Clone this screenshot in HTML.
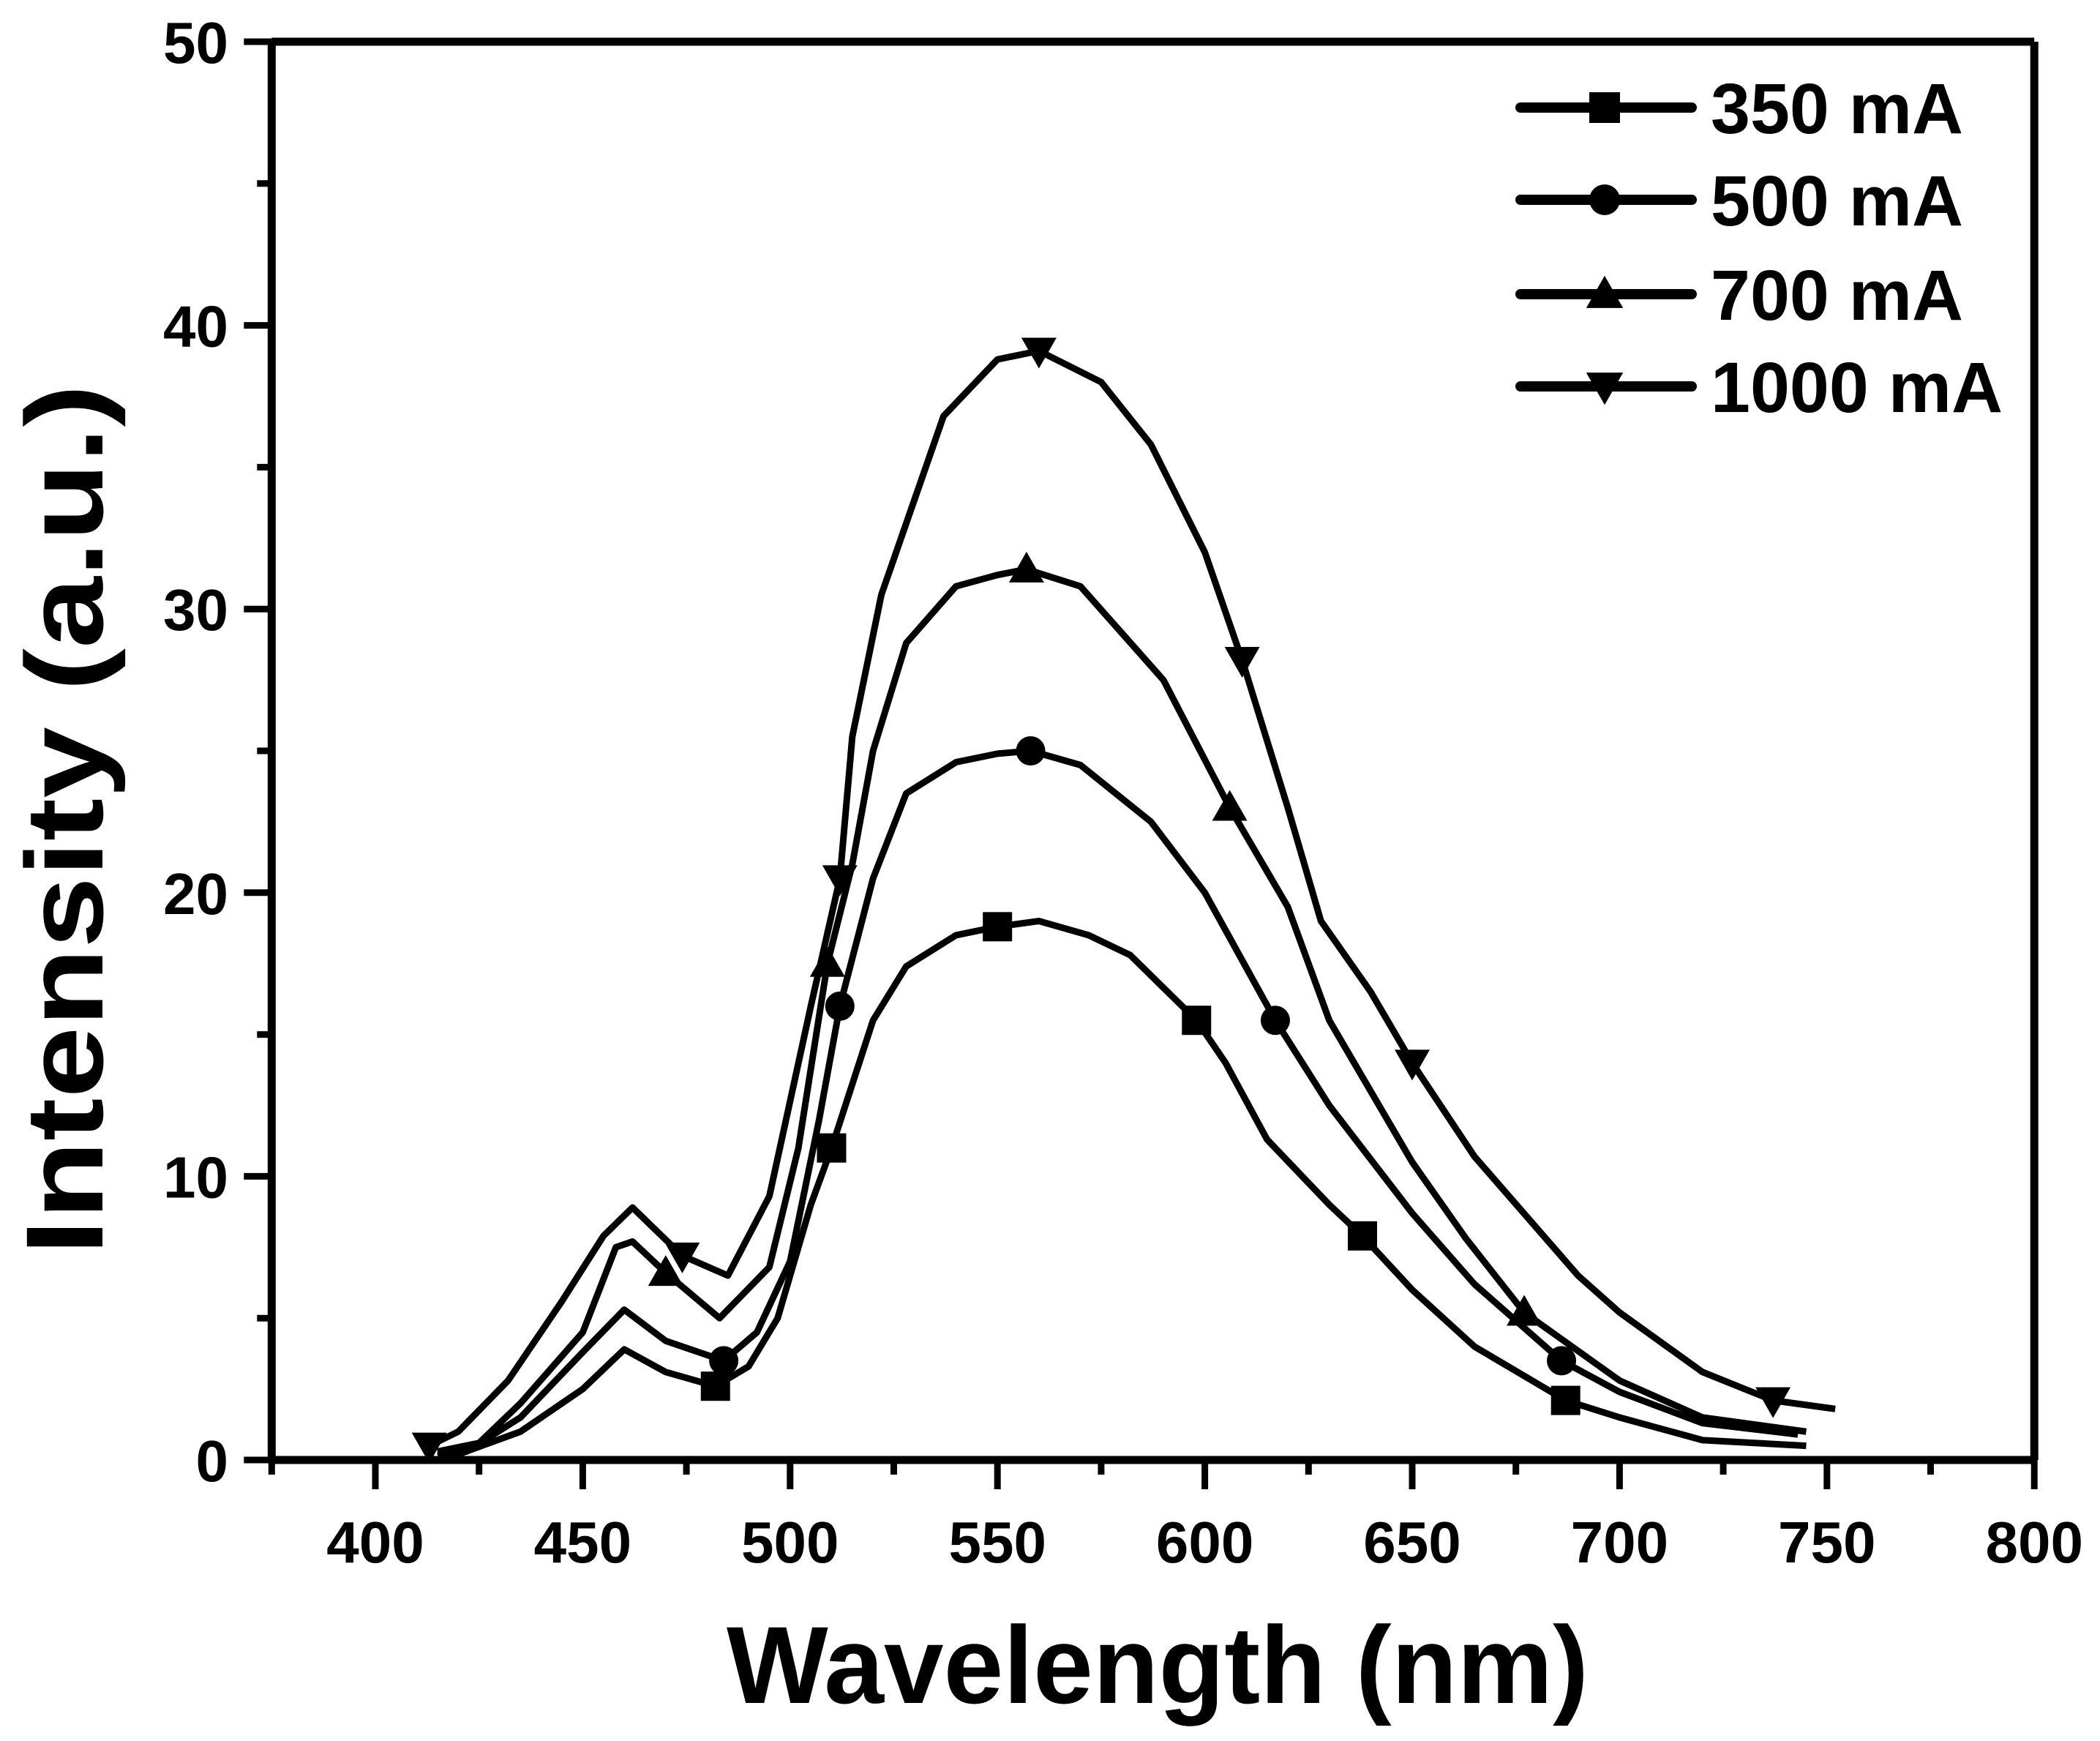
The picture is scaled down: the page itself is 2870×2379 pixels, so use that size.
<!DOCTYPE html>
<html><head><meta charset="utf-8"><style>
html,body{margin:0;padding:0;background:#fff;}
svg{display:block;}
text{font-family:"Liberation Sans",Arial,sans-serif;font-weight:bold;fill:#000;}
</style></head><body>
<svg id="chart" width="2870" height="2379" viewBox="0 0 2870 2379" xmlns="http://www.w3.org/2000/svg">
<g id="axes"></g>
<g id="series"></g>
<g id="legend"></g>
<text x="1582" y="2327" font-size="150" text-anchor="middle" textLength="1178" lengthAdjust="spacingAndGlyphs">Wavelength (nm)</text>
<text transform="translate(140,1120) rotate(-90)" font-size="150" text-anchor="middle" textLength="1190" lengthAdjust="spacingAndGlyphs">Intensity  (a.u.)</text>
</svg>
<script>
const xTicks=[400,450,500,550,600,650,700,750,800];
const yTicks=[0,10,20,30,40,50];
const seriesNames=["350 mA","500 mA","700 mA","1000 mA"];
const markerShapes=["square","circle","triangle","tridown"];
const wl350=[415,420,435,450,460,470,482,490,497,505,510,520,528,540,550,560,572,582,598,605,615,630,638,650,665,687,700,720,745];
const in350=[0.3,0.2,1,2.5,3.9,3.1,2.6,3.3,5,9,11,15.5,17.4,18.5,18.8,19,18.5,17.8,15.5,14,11.3,9,7.9,6,4,2.1,1.5,0.7,0.5];
const mk350=[482,510,550,598,638,687];
const wl500=[415,422,435,450,460,470,484,492,500,507,512,520,528,540,550,558,570,587,600,617,630,650,665,686,700,720,743];
const in500=[0.2,0.3,1.5,3.8,5.3,4.2,3.5,4.5,7,12,16,20.5,23.5,24.6,24.9,25,24.5,22.5,20,15.5,12.5,8.7,6.2,3.5,2.4,1.3,0.9];
const mk500=[484,512,558,617,686];
const wl700=[415,425,435,450,458,462,470,483,495,502,509,515,520,528,540,550,557,570,590,606,620,630,650,663,677,700,720,745];
const in700=[0.3,0.6,2,4.5,7.5,7.7,6.6,5,6.8,11,17.5,21,25,28.8,30.8,31.2,31.4,30.8,27.5,23,19.5,15.5,10.5,7.8,5.2,2.8,1.5,1];
const mk700=[470,509,557,606,677];
const wl1000=[413,420,432,445,455,462,474,485,495,505,512,515,522,537,550,560,575,587,600,609,620,628,640,650,665,690,700,720,737,752];
const in1000=[0.5,1,2.8,5.6,7.9,8.9,7.2,6.5,9.3,16,20.5,25.5,30.5,36.8,38.8,39.1,38,35.8,32,28.2,23,19,16.5,14,10.7,6.5,5.2,3.1,2.1,1.8];
const mk1000=[413,474,512,560,609,650,737];

const NS="http://www.w3.org/2000/svg";
const X=v=>513+(v-400)*5.668;
const Y=v=>1995-v*38.76;
function mk(tag,parent){const e=document.createElementNS(NS,tag);parent.appendChild(e);return e;}
const axes=document.getElementById('axes');
const frame=mk('path',axes);


frame.setAttribute('d',`M${X(375)},${Y(0)} H${X(800)} M${X(375)},${Y(50)} H${X(800)} M${X(375)},${Y(50)} V${Y(0)} M${X(800)},${Y(50)} V${Y(0)}`);
frame.setAttribute('stroke','#000');frame.setAttribute('stroke-width','11');frame.setAttribute('fill','none');
const tl=mk('path',axes);


let d=`M${X(375)-38},${Y(0)} H${X(375)} M${X(375)-38},${Y(50)} H${X(375)}`;
for(let v=375;v<=800;v+=25){const major=(v%50===0);d+=`M${X(v)},${Y(0)} V${Y(0)+(major?40:20)}`;}
for(let v=0;v<=50;v+=5){const major=(v%10===0);d+=`M${X(375)},${Y(v)} H${X(375)-(major?38:20)}`;}
tl.setAttribute('d',d);tl.setAttribute('stroke','#000');tl.setAttribute('stroke-width','9');
xTicks.forEach(v=>{const t=mk('text',axes);


t.setAttribute('x',X(v));t.setAttribute('y',2135);t.setAttribute('font-size','80');t.setAttribute('text-anchor','middle');t.textContent=v;});
yTicks.forEach(v=>{const t=mk('text',axes);


t.setAttribute('x',312);t.setAttribute('y',Y(v)+29);t.setAttribute('font-size','80');t.setAttribute('text-anchor','end');t.textContent=v;});

function marker(parent,shape,cx,cy,s){
  let e;
  if(shape==='square'){e=mk('rect',parent);e.setAttribute('x',cx-s/2);e.setAttribute('y',cy-s/2);e.setAttribute('width',s);e.setAttribute('height',s);}
  else if(shape==='circle'){e=mk('circle',parent);e.setAttribute('cx',cx);e.setAttribute('cy',cy);e.setAttribute('r',s/2);}
  else if(shape==='triangle'){e=mk('polygon',parent);e.setAttribute('points',`${cx},${cy-s*0.6} ${cx-s*0.6},${cy+s*0.45} ${cx+s*0.6},${cy+s*0.45}`);}
  else {e=mk('polygon',parent);e.setAttribute('points',`${cx},${cy+s*0.6} ${cx-s*0.6},${cy-s*0.45} ${cx+s*0.6},${cy-s*0.45}`);}
  e.setAttribute('fill','#000');
  
  
}
const sg=document.getElementById('series');
const all=[[wl350,in350,mk350],[wl500,in500,mk500],[wl700,in700,mk700],[wl1000,in1000,mk1000]];
all.forEach((s,i)=>{
  const g=mk('g',sg);
  
  
  const p=mk('polyline',g);
  
  
  p.setAttribute('points',s[0].map((w,j)=>X(w)+','+Y(s[1][j])).join(' '));
  p.setAttribute('fill','none');p.setAttribute('stroke','#000');p.setAttribute('stroke-width','9');p.setAttribute('stroke-linejoin','round');
  s[2].forEach(w=>{const j=s[0].indexOf(w);marker(g,markerShapes[i],X(w),Y(s[1][j]),40);});
});
const lg=document.getElementById('legend');
const ly=[147,273,402,528];
seriesNames.forEach((n,i)=>{
  const g=mk('g',lg);
  
  
  const l=mk('line',g);
  
  
  l.setAttribute('x1',2078);l.setAttribute('x2',2312);l.setAttribute('y1',ly[i]);l.setAttribute('y2',ly[i]);
  l.setAttribute('stroke','#000');l.setAttribute('stroke-width','14');l.setAttribute('stroke-linecap','round');
  marker(g,markerShapes[i],2193,ly[i],42);
  const t=mk('text',g);
  
  
  t.setAttribute('x',2338);t.setAttribute('y',ly[i]+35);t.setAttribute('font-size','97');t.textContent=n;
});
</script>
</body></html>
